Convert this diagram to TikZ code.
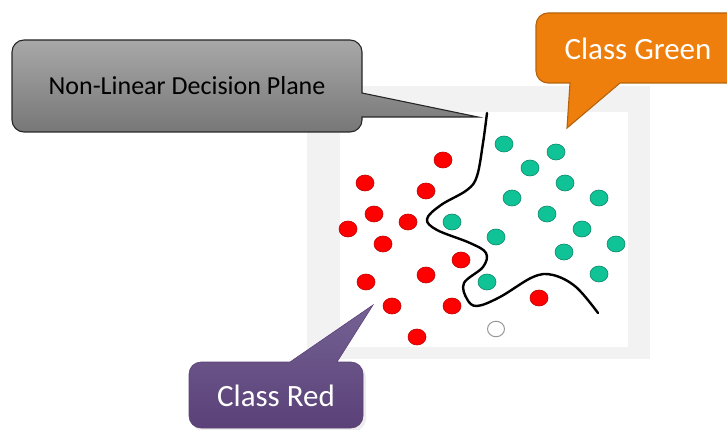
\documentclass[tikz,border=0pt]{standalone}
\usepackage{fontspec}
\setmainfont{Carlito}
\usetikzlibrary{shapes.geometric}
\begin{document}
\begin{tikzpicture}[x=1pt,y=-1pt,
  reddot/.style={ellipse,minimum width=18pt,minimum height=16pt,inner sep=0pt,
    fill=red,draw=red!75!black,line width=0.6pt},
  greendot/.style={ellipse,minimum width=18pt,minimum height=16pt,inner sep=0pt,
    fill=teal1,draw=teal1!70!black,line width=0.6pt},
  opendot/.style={ellipse,minimum width=17pt,minimum height=15.5pt,inner sep=0pt,
    fill=white,draw=gray!80,line width=1pt},
  boundary/.style={line width=2.4pt,black,line cap=round},
  calltext/.style={inner sep=0pt,font=\fontsize{31}{36}\selectfont,text=white},
]
\definecolor{teal1}{HTML}{10C396}
\definecolor{frameband}{HTML}{F2F2F2}
\definecolor{orangefill}{HTML}{EE7F0C}
\definecolor{orangeline}{HTML}{B6620A}
\definecolor{greytop}{HTML}{A8A8A8}
\definecolor{greybot}{HTML}{777777}
\definecolor{purptop}{HTML}{756293}
\definecolor{purpbot}{HTML}{5A4178}

\useasboundingbox (0,0) rectangle (727,430);
\clip (0,0) rectangle (727,430);

% plot frame
\fill[frameband] (307,86) rectangle (650,359);
\fill[white] (340,112) rectangle (628,347);

% decision boundary
\draw[boundary] plot[smooth,tension=0.6] coordinates {
  (487,113) (483,143) (477,176) (467,190) (441,205) (427,219) (437,230)
  (470,243) (486,253) (483,267) (464,283) (467,299) (477,306) (500,297)
  (533,277) (553,275) (576,287) (598,313)};

% class red samples
\foreach \i/\p in {1/{(443,160)},2/{(365,183)},3/{(426,191)},4/{(374,214)},
  5/{(408,222)},6/{(348,229)},7/{(383,244)},8/{(461,260)},9/{(426,275)},
  10/{(366,282)},11/{(392,306)},12/{(452,306)},13/{(417,337)},14/{(539,298)}}
  \node[reddot] (r\i) at \p {};

% class green samples
\foreach \i/\p in {1/{(504,144)},2/{(556,152)},3/{(530,168)},4/{(565,183)},
  5/{(512,198)},6/{(599,198)},7/{(547,214)},8/{(452,222)},9/{(582,229)},
  10/{(496,237)},11/{(616,244)},12/{(564,252)},13/{(599,274)},14/{(487,282)}}
  \node[greendot] (g\i) at \p {};

% unlabelled sample
\node[opendot] (u) at (496,329) {};

% grey callout (corner style follows the segment that arrives at it)
\draw[line width=1.1pt,draw=black!85,top color=greytop,bottom color=greybot,rounded corners=12]
  (187,40) -- (12,40) -- (12,132) -- (362,132)
  [sharp corners] -- (362,117) -- (478,117) -- (362,93)
  [rounded corners=12] -- (362,40) -- cycle;
\node[inner sep=0pt,font=\fontsize{26}{30}\selectfont] (plane) at (187,86) {Non-Linear Decision Plane};

% orange callout
\draw[line width=1.1pt,draw=orangeline,fill=orangefill,rounded corners=12]
  (640,13) -- (536,13) -- (536,83)
  [sharp corners] -- (570,83) -- (567,128) -- (620,83)
  [rounded corners=12] -- (745,83) -- (745,13) -- cycle;
\node[calltext] (green) at (638,49) {Class Green};

% purple callout with a faint shadow
\fill[black!7,rounded corners=12] (191,365) rectangle (366,431);
\draw[line width=0.6pt,draw=purpbot,top color=purptop,bottom color=purpbot,rounded corners=12]
  (276,428) -- (189,428) -- (189,362)
  [sharp corners] -- (290,362) -- (373,305) -- (337,362)
  [rounded corners=12] -- (363,362) -- (363,428) -- cycle;
\node[calltext] (red) at (276,396) {Class Red};
\end{tikzpicture}
\end{document}
